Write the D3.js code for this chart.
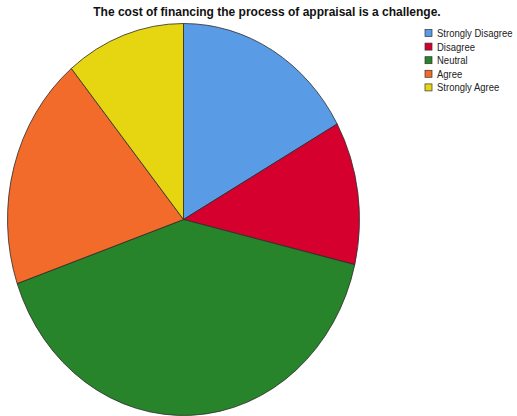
<!DOCTYPE html>
<html>
<head>
<meta charset="utf-8">
<script src="https://cdn.jsdelivr.net/npm/d3@7/dist/d3.min.js"></script>
<style>
  html, body { margin: 0; padding: 0; background: #fff; }
  svg { display: block; }
</style>
</head>
<body>
<svg id="chart" width="517" height="416"></svg>
<script>
// Response categories and their shares (%)
const categories = ["Strongly Disagree", "Disagree", "Neutral", "Agree", "Strongly Agree"];
const values = [16.9, 11.8, 41.0, 19.3, 11.0];
const colors = ["#5a9be6", "#d6002f", "#28842a", "#f26b2b", "#e6d612"];
const title = "The cost of financing the process of appraisal is a challenge.";

const svg = d3.select("#chart");

const cx = 183.5, cy = 219.5;
const rx = 176, ry = 196;

const data = categories.map((c, i) => ({ category: c, value: values[i], color: colors[i] }));

const pie = d3.pie().sort(null).value(d => d.value);
const arc = d3.arc().innerRadius(0).outerRadius(rx);

// Pie drawn as a circle then stretched vertically into an ellipse
const g = svg.append("g")
  .attr("transform", `translate(${cx},${cy}) scale(1,${ry / rx})`);

g.selectAll("path")
  .data(pie(data))
  .join("path")
  .attr("d", arc)
  .attr("fill", d => d.data.color)
  .attr("stroke", "#2a2a2a")
  .attr("stroke-width", 0.8)
  .attr("vector-effect", "non-scaling-stroke");

// Title
svg.append("text")
  .attr("x", 267)
  .attr("y", 16)
  .attr("text-anchor", "middle")
  .attr("font-family", "Liberation Sans, Arial, sans-serif")
  .attr("font-weight", "bold")
  .attr("font-size", 12)
  .attr("fill", "#111")
  .text(title);

// Legend
const legend = svg.append("g").attr("transform", "translate(425,29.5)");
const rows = legend.selectAll("g")
  .data(data)
  .join("g")
  .attr("transform", (d, i) => `translate(0,${i * 13.6})`);

rows.append("rect")
  .attr("width", 7)
  .attr("height", 7)
  .attr("fill", d => d.color)
  .attr("stroke", "#333")
  .attr("stroke-width", 0.7);

rows.append("text")
  .attr("transform", "translate(12,7.5) scale(0.95,1)")
  .attr("font-family", "Liberation Sans, Arial, sans-serif")
  .attr("font-size", 10)
  .attr("fill", "#222")
  .text(d => d.category);
</script>
</body>
</html>
